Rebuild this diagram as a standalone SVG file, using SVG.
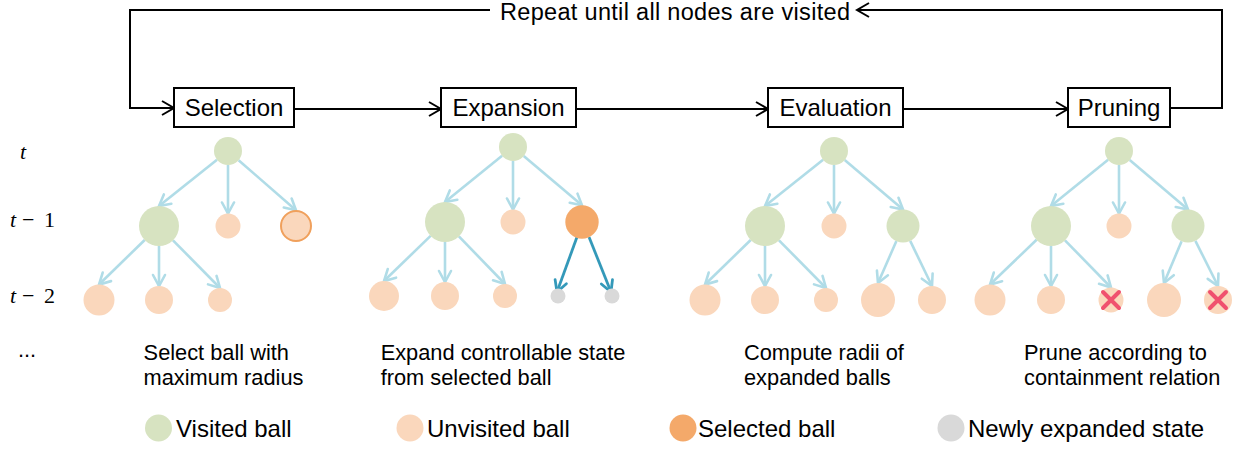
<svg xmlns="http://www.w3.org/2000/svg" width="1244" height="449" viewBox="0 0 1244 449">
<defs>
<marker id="ah" markerUnits="userSpaceOnUse" markerWidth="16" markerHeight="16" refX="13" refY="8" orient="auto">
<path d="M1,1 L13,8 L1,15" fill="none" stroke="#000" stroke-width="2"/>
</marker>
<marker id="lb" markerUnits="userSpaceOnUse" markerWidth="16" markerHeight="16" refX="13" refY="8" orient="auto">
<path d="M2,2 L13,8 L2,14" fill="none" stroke="#B0DCE7" stroke-width="2.6" stroke-linecap="round"/>
</marker>
<marker id="db" markerUnits="userSpaceOnUse" markerWidth="16" markerHeight="16" refX="13" refY="8" orient="auto">
<path d="M2,2 L13,8 L2,14" fill="none" stroke="#3499B9" stroke-width="2.8" stroke-linecap="round"/>
</marker>
</defs>
<style>
.box{fill:#fff;stroke:#000;stroke-width:2}
.bl{font-family:"Liberation Sans",Arial,sans-serif;font-size:24px;fill:#000;text-anchor:middle}
.rp{font-family:"Liberation Sans",Arial,sans-serif;font-size:23.5px;fill:#000}
.tx{font-family:"Liberation Sans",Arial,sans-serif;font-size:21.8px;fill:#000}
.lg{font-family:"Liberation Sans",Arial,sans-serif;font-size:24px;fill:#000}
.mt{font-family:"Liberation Serif","Times New Roman",serif;font-size:22px;fill:#000}
.flow{fill:none;stroke:#000;stroke-width:2;marker-end:url(#ah)}
.e{stroke:#B0DCE7;stroke-width:2.6;fill:none;marker-end:url(#lb)}
.d{stroke:#3499B9;stroke-width:2.8;fill:none;marker-end:url(#db)}
.v{fill:#D7E3C1}
.u{fill:#FAD7BC}
.s{fill:#F4A96A}
.g{fill:#D9D9D9}
.x{stroke:#F0506E;stroke-width:4;stroke-linecap:round}
</style>

<g id="connectors">
<path class="flow" d="M294,109 L441,109"/>
<path class="flow" d="M576,109 L768,109"/>
<path class="flow" d="M903,109 L1068,109"/>
<path class="flow" d="M1170,108 L1222,108 L1222,10 L857,10"/>
<path class="flow" d="M490,10 L130,10 L130,108 L174,108"/>
<!-- tree 1 -->
<line class="e" x1="217" y1="159.7" x2="159" y2="206"/>
<line class="e" x1="228" y1="165" x2="228" y2="213.5"/>
<line class="e" x1="238.6" y1="160.2" x2="296" y2="210.3"/>
<line class="e" x1="144.7" y1="240" x2="99" y2="284.5"/>
<line class="e" x1="159" y1="246" x2="159" y2="286"/>
<line class="e" x1="173" y1="240.3" x2="220" y2="288"/>
<!-- tree 2 -->
<line class="e" x1="502.1" y1="155.8" x2="445" y2="202"/>
<line class="e" x1="513" y1="161" x2="513" y2="209.5"/>
<line class="e" x1="523.7" y1="156" x2="582" y2="205.3"/>
<line class="e" x1="430.6" y1="235.9" x2="384" y2="281"/>
<line class="e" x1="445" y1="242" x2="445" y2="282"/>
<line class="e" x1="458.9" y1="236.4" x2="505" y2="284"/>
<line class="d" x1="577" y1="237" x2="557" y2="292"/>
<line class="d" x1="589" y1="237" x2="611" y2="292"/>
<!-- tree 3 -->
<line class="e" x1="823.1" y1="159.7" x2="765" y2="206"/>
<line class="e" x1="834" y1="165" x2="834" y2="213.5"/>
<line class="e" x1="844.7" y1="160.1" x2="903" y2="209.5"/>
<line class="e" x1="750.7" y1="240" x2="705" y2="284.5"/>
<line class="e" x1="765" y1="246" x2="765" y2="286"/>
<line class="e" x1="779" y1="240.3" x2="826" y2="288"/>
<line class="e" x1="896.4" y1="241.1" x2="878" y2="283"/>
<line class="e" x1="910.2" y1="240.9" x2="932" y2="286"/>
<!-- tree 4 -->
<line class="e" x1="1108.1" y1="159.8" x2="1051" y2="206"/>
<line class="e" x1="1119" y1="165" x2="1119" y2="213.5"/>
<line class="e" x1="1129.7" y1="160.1" x2="1188" y2="209.5"/>
<line class="e" x1="1036.6" y1="239.8" x2="990" y2="284.5"/>
<line class="e" x1="1051" y1="246" x2="1051" y2="286"/>
<line class="e" x1="1065" y1="240.3" x2="1111" y2="287.5"/>
<line class="e" x1="1181.6" y1="241.2" x2="1164" y2="283"/>
<line class="e" x1="1195.4" y1="240.8" x2="1218" y2="286"/>
</g>

<text class="rp" x="500" y="19.5" textLength="350">Repeat until all nodes are visited</text>

<g id="selection"><rect class="box" x="174" y="88" width="120" height="39"/><text class="bl" x="234" y="115.5">Selection</text></g>
<g id="expansion"><rect class="box" x="441" y="88" width="135" height="39"/><text class="bl" x="508.5" y="115.5">Expansion</text></g>
<g id="evaluation"><rect class="box" x="768" y="88" width="135" height="39"/><text class="bl" x="835.5" y="115.5">Evaluation</text></g>
<g id="pruning"><rect class="box" x="1068" y="88" width="102" height="39"/><text class="bl" x="1119" y="115.5">Pruning</text></g>

<g id="levels">
<text class="mt" x="20" y="159" font-style="italic">t</text>
<text class="mt" y="227"><tspan x="10" font-style="italic">t</tspan><tspan x="22">−</tspan><tspan x="44">1</tspan></text>
<text class="mt" y="303"><tspan x="10" font-style="italic">t</tspan><tspan x="22">−</tspan><tspan x="44">2</tspan></text>
<text class="tx" x="18" y="357" font-size="18">...</text>
</g>

<g id="tree1">
<circle class="v" cx="228" cy="151" r="14"/>
<circle class="v" cx="159" cy="226" r="20"/>
<circle class="u" cx="228" cy="226" r="12.5"/>
<circle class="u" cx="296" cy="226" r="15" stroke="#F0A05C" stroke-width="2"/>
<circle class="u" cx="99" cy="300" r="15.5"/>
<circle class="u" cx="159" cy="300" r="14"/>
<circle class="u" cx="220" cy="300" r="12"/>
</g>
<g id="tree2">
<circle class="v" cx="513" cy="147" r="14"/>
<circle class="v" cx="445" cy="222" r="20"/>
<circle class="u" cx="513" cy="222" r="12.5"/>
<circle class="s" cx="582" cy="222" r="16.7"/>
<circle class="u" cx="384" cy="296" r="15"/>
<circle class="u" cx="445" cy="296" r="14"/>
<circle class="u" cx="505" cy="296" r="12"/>
<circle class="g" cx="558" cy="296" r="7.5"/>
<circle class="g" cx="612" cy="296" r="7.5"/>
</g>
<g id="tree3">
<circle class="v" cx="834" cy="151" r="14"/>
<circle class="v" cx="765" cy="226" r="20"/>
<circle class="u" cx="834" cy="226" r="12.5"/>
<circle class="v" cx="903" cy="226" r="16.5"/>
<circle class="u" cx="705" cy="300" r="15.5"/>
<circle class="u" cx="765" cy="300" r="14"/>
<circle class="u" cx="826" cy="300" r="12"/>
<circle class="u" cx="878" cy="300" r="17"/>
<circle class="u" cx="932" cy="300" r="14"/>
</g>
<g id="tree4">
<circle class="v" cx="1119" cy="151" r="14"/>
<circle class="v" cx="1051" cy="226" r="20"/>
<circle class="u" cx="1119" cy="226" r="12.5"/>
<circle class="v" cx="1188" cy="226" r="16.5"/>
<circle class="u" cx="990" cy="300" r="15.5"/>
<circle class="u" cx="1051" cy="300" r="14"/>
<circle class="u" cx="1111" cy="300" r="12.5"/>
<circle class="u" cx="1164" cy="300" r="17"/>
<circle class="u" cx="1218" cy="300" r="14"/>
<path class="x" d="M1103,292 L1119,308 M1119,292 L1103,308"/>
<path class="x" d="M1210,292 L1226,308 M1226,292 L1210,308"/>
</g>

<g id="captions">
<text class="tx" x="143.6" y="360">Select ball with</text>
<text class="tx" x="143.6" y="385">maximum radius</text>
<text class="tx" x="380.7" y="360">Expand controllable state</text>
<text class="tx" x="380.7" y="385">from selected ball</text>
<text class="tx" x="744" y="360">Compute radii of</text>
<text class="tx" x="744" y="385">expanded balls</text>
<text class="tx" x="1024" y="360">Prune according to</text>
<text class="tx" x="1024" y="385">containment relation</text>
</g>

<g id="legend">
<circle class="v" cx="158.5" cy="428" r="13.5"/><text class="lg" x="176" y="437">Visited ball</text>
<circle class="u" cx="410" cy="428" r="13.5"/><text class="lg" x="427" y="437">Unvisited ball</text>
<circle class="s" cx="683" cy="428" r="13.5"/><text class="lg" x="698" y="437">Selected ball</text>
<circle class="g" cx="951" cy="428" r="13.5"/><text class="lg" x="968" y="437">Newly expanded state</text>
</g>
</svg>
